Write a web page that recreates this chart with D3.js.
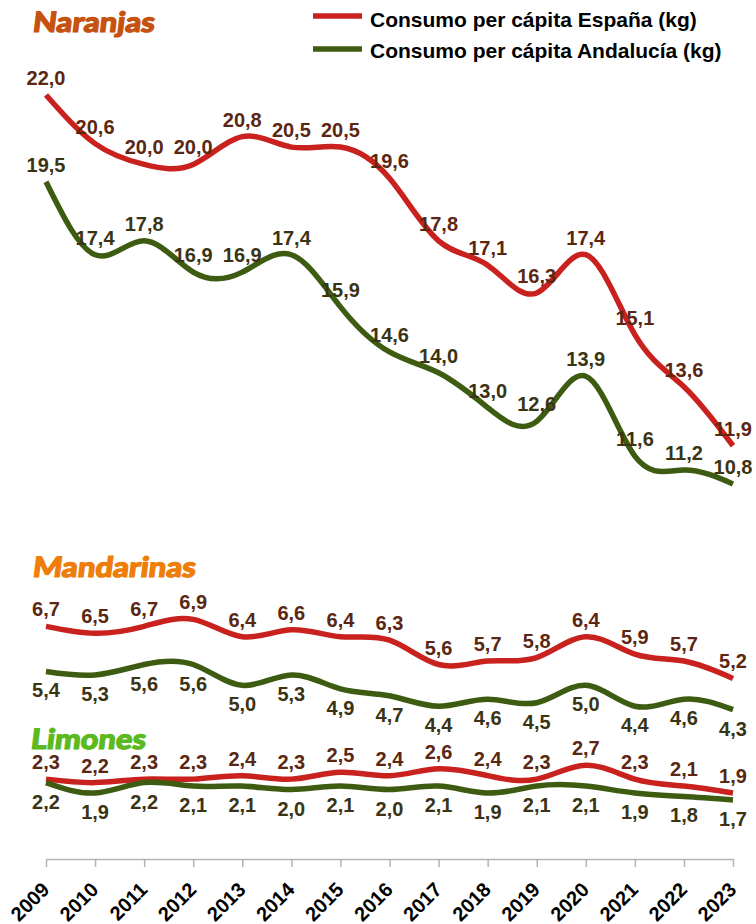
<!DOCTYPE html>
<html>
<head>
<meta charset="utf-8">
<script src="https://cdn.jsdelivr.net/npm/d3@7"></script>
<style>
  html, body { margin: 0; padding: 0; background: #fff; }
  svg { display: block; }
</style>
</head>
<body>
<svg id="chart" width="756" height="924"></svg>
<script>
const years = [2009, 2010, 2011, 2012, 2013, 2014, 2015, 2016, 2017, 2018, 2019, 2020, 2021, 2022, 2023];

const naranjasEspana    = [22.0, 20.6, 20.0, 20.0, 20.8, 20.5, 20.5, 19.6, 17.8, 17.1, 16.3, 17.4, 15.1, 13.6, 11.9];
const naranjasAndalucia = [19.5, 17.4, 17.8, 16.9, 16.9, 17.4, 15.9, 14.6, 14.0, 13.0, 12.6, 13.9, 11.6, 11.2, 10.8];
const mandarinasEspana    = [6.7, 6.5, 6.7, 6.9, 6.4, 6.6, 6.4, 6.3, 5.6, 5.7, 5.8, 6.4, 5.9, 5.7, 5.2];
const mandarinasAndalucia = [5.4, 5.3, 5.6, 5.6, 5.0, 5.3, 4.9, 4.7, 4.4, 4.6, 4.5, 5.0, 4.4, 4.6, 4.3];
const limonesEspana    = [2.3, 2.2, 2.3, 2.3, 2.4, 2.3, 2.5, 2.4, 2.6, 2.4, 2.3, 2.7, 2.3, 2.1, 1.9];
const limonesAndalucia = [2.2, 1.9, 2.2, 2.1, 2.1, 2.0, 2.1, 2.0, 2.1, 1.9, 2.1, 2.1, 1.9, 1.8, 1.7];

const legendLabels = ['Consumo per cápita España (kg)', 'Consumo per cápita Andalucía (kg)'];
const groupTitles = ['Naranjas', 'Mandarinas', 'Limones'];

const RED = '#c9211e', GREEN = '#3d5c12';
const RED_TXT = '#5b2712', GREEN_TXT = '#3b3414';

const series = [
  {values: naranjasEspana, color: RED, text: RED_TXT, pos: 'above'},
  {values: naranjasAndalucia, color: GREEN, text: GREEN_TXT, pos: 'above'},
  {values: mandarinasEspana, color: RED, text: RED_TXT, pos: 'above'},
  {values: mandarinasAndalucia, color: GREEN, text: GREEN_TXT, pos: 'below'},
  {values: limonesEspana, color: RED, text: RED_TXT, pos: 'above'},
  {values: limonesAndalucia, color: GREEN, text: GREEN_TXT, pos: 'below'},
];

const svg = d3.select('#chart');
const fmt = v => d3.format('.1f')(v).replace('.', ',');

const x = d3.scalePoint().domain(years).range([46, 733]);
const y = d3.scaleLinear().domain([0, 22]).range([859, 95]);

// eje x
const axis = svg.append('g')
  .attr('transform', 'translate(0,859)')
  .call(d3.axisBottom(x).tickSize(8).tickSizeOuter(0));
axis.select('.domain').attr('stroke', '#b3b3b3').attr('stroke-width', 1.5);
axis.selectAll('.tick line').attr('stroke', '#b3b3b3').attr('stroke-width', 1.5);
axis.selectAll('.tick text')
  .attr('x', null).attr('y', null).attr('dy', null)
  .attr('transform', 'translate(4,32) rotate(-45)')
  .attr('text-anchor', 'end')
  .attr('fill', '#000')
  .style('font', 'bold 20px "Liberation Sans", Arial, sans-serif');

const line = d3.line()
  .x((d, i) => x(years[i]))
  .y(d => y(d))
  .curve(d3.curveNatural);

series.forEach(s => {
  svg.append('path')
    .attr('d', line(s.values))
    .attr('fill', 'none')
    .attr('stroke', s.color)
    .attr('stroke-width', 5.5);
});

series.forEach(s => {
  svg.append('g').selectAll('text')
    .data(s.values)
    .enter()
    .append('text')
    .attr('x', (d, i) => x(years[i]))
    .attr('y', d => s.pos === 'above' ? y(d) - 10 : y(d) + 26)
    .attr('text-anchor', 'middle')
    .attr('fill', s.text)
    .style('font', 'bold 20px "Liberation Sans", Arial, sans-serif')
    .text(fmt);
});

// titulos de cada grupo
const titles = [
  {x: 32, y: 32, color: '#c6520f', len: 122},
  {x: 32, y: 577, color: '#ee7d0a', len: 163},
  {x: 30, y: 749, color: '#5cb91e', len: 115},
];
titles.forEach((t, i) => {
  svg.append('text')
    .attr('transform', `translate(${t.x},${t.y}) skewX(-7)`)
    .attr('fill', t.color)
    .attr('stroke', t.color)
    .attr('stroke-width', 1.2)
    .attr('textLength', t.len)
    .attr('lengthAdjust', 'spacingAndGlyphs')
    .style('font', '900 28px Lato, "Liberation Sans", sans-serif')
    .text(groupTitles[i]);
});

// leyenda
const legend = svg.append('g');
[[RED, 16, 27], [GREEN, 49, 58]].forEach(([c, ly, ty], i) => {
  legend.append('line')
    .attr('x1', 313).attr('x2', 362)
    .attr('y1', ly).attr('y2', ly)
    .attr('stroke', c).attr('stroke-width', 5.5);
  legend.append('text')
    .attr('x', 370).attr('y', ty)
    .attr('fill', '#000')
    .style('font', 'bold 21px "Liberation Sans", Arial, sans-serif')
    .text(legendLabels[i]);
});
</script>
</body>
</html>
